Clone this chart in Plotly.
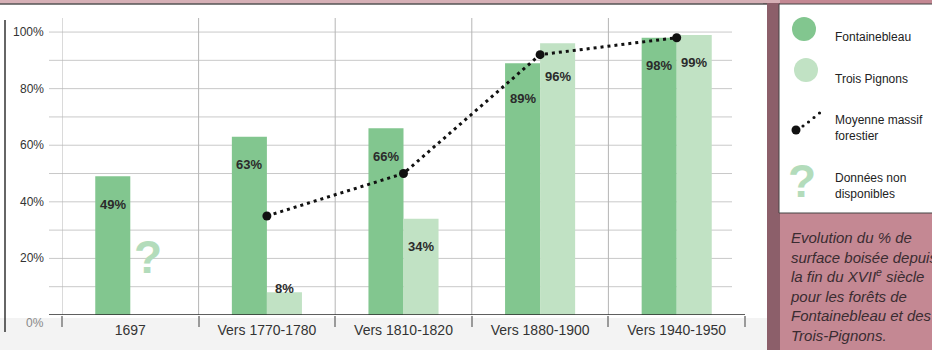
import plotly.graph_objects as go

# ---- data ----
categories = ["1697", "Vers 1770-1780", "Vers 1810-1820", "Vers 1880-1900", "Vers 1940-1950"]
fontainebleau = [49, 63, 66, 89, 98]
trois_pignons = [None, 8, 34, 96, 99]
moyenne = [None, 35, 50, 92, 98]
y_tickvals = [0, 20, 40, 60, 80, 100]
y_ticktext = ["0%", "20%", "40%", "60%", "80%", "100%"]
caption_lines = ["Evolution du % de", "surface boisée depuis", "la fin du XVII<sup>e</sup> siècle",
                 "pour les forêts de", "Fontainebleau et des", "Trois-Pignons."]

W, H = 932, 350
GREEN = "#82c68f"
LIGHT = "#c1e2c4"
QMARK = "#b3dcbb"
PINK = "#c48893"
FONT = "Liberation Sans, Arial, sans-serif"


def px(x):
    return x / W


def py(y):
    return 1 - y / H


fig = go.Figure()
fig.add_trace(go.Bar(x=categories, y=fontainebleau, marker=dict(color=GREEN, line=dict(width=0)),
                     name="Fontainebleau", showlegend=False, hoverinfo="skip"))
fig.add_trace(go.Bar(x=categories, y=trois_pignons, marker=dict(color=LIGHT, line=dict(width=0)),
                     name="Trois Pignons", showlegend=False, hoverinfo="skip"))
fig.add_trace(go.Scatter(x=categories, y=moyenne, mode="lines+markers",
                         line=dict(color="#111111", width=3, dash="3px,4px"),
                         marker=dict(size=9, color="#111111"),
                         name="Moyenne massif forestier", showlegend=False, hoverinfo="skip",
                         connectgaps=False))

shapes = []
# backgrounds
shapes.append(dict(type="rect", xref="paper", yref="paper", x0=px(0), x1=px(W), y0=py(H), y1=py(0),
                   fillcolor=PINK, line=dict(width=0), layer="below"))
shapes.append(dict(type="rect", xref="paper", yref="paper", x0=px(0), x1=px(780), y0=py(H), y1=py(0),
                   fillcolor="#d6b0b6", line=dict(width=0), layer="below"))
shapes.append(dict(type="rect", xref="paper", yref="paper", x0=px(763), x1=px(780), y0=py(H), y1=py(3),
                   fillcolor="#8c5f6a", line=dict(width=0), layer="below"))
shapes.append(dict(type="rect", xref="paper", yref="paper", x0=px(0), x1=px(767), y0=py(H), y1=py(4),
                   fillcolor="#ffffff", line=dict(width=0), layer="below"))
shapes.append(dict(type="rect", xref="paper", yref="paper", x0=px(0), x1=px(767), y0=py(H), y1=py(318),
                   fillcolor="#f3f3f3", line=dict(width=0), layer="below"))
# panel borders
shapes.append(dict(type="line", xref="paper", yref="paper", x0=px(0), x1=px(767), y0=py(4), y1=py(4),
                   line=dict(color="#555555", width=1.5)))
shapes.append(dict(type="line", xref="paper", yref="paper", x0=px(5), x1=px(5), y0=py(20), y1=py(332),
                   line=dict(color="#333333", width=1.5)))

# horizontal gridlines
for v in range(10, 101, 10):
    shapes.append(dict(type="line", xref="x domain", yref="y", x0=-13 / 683, x1=670 / 683, y0=v, y1=v,
                       line=dict(color="#c9c9c9", width=1), layer="below"))
# vertical gridlines at category boundaries
for i in range(len(categories)):
    shapes.append(dict(type="line", xref="x", yref="y", x0=i - 0.5, x1=i - 0.5, y0=0, y1=105,
                       line=dict(color="#b5b5b5", width=1), layer="below"))
# x axis baseline
shapes.append(dict(type="line", xref="x domain", yref="y", x0=-13 / 683, x1=1, y0=0, y1=0,
                   line=dict(color="#2a2a2a", width=1.5)))

# legend box
shapes.append(dict(type="rect", xref="paper", yref="paper", x0=px(779), x1=px(935), y0=py(213), y1=py(4),
                   fillcolor="#ffffff", line=dict(color="#444444", width=1)))
shapes.append(dict(type="circle", xref="paper", yref="paper", x0=px(792), x1=px(816), y0=py(41), y1=py(17),
                   fillcolor=GREEN, line=dict(width=0)))
shapes.append(dict(type="circle", xref="paper", yref="paper", x0=px(794), x1=px(818), y0=py(82), y1=py(58),
                   fillcolor=LIGHT, line=dict(width=0)))
shapes.append(dict(type="circle", xref="paper", yref="paper", x0=px(791.5), x1=px(800.5), y0=py(134.5), y1=py(125.5),
                   fillcolor="#111111", line=dict(width=0)))
for cx, cy in [(803, 126), (808.5, 122), (814, 117.5), (819.5, 113)]:
    shapes.append(dict(type="circle", xref="paper", yref="paper", x0=px(cx - 1.6), x1=px(cx + 1.6),
                       y0=py(cy + 1.6), y1=py(cy - 1.6), fillcolor="#111111", line=dict(width=0)))

annotations = []
lab_font = dict(family=FONT, size=13, color="#2b2b2b")
shift_override = {("f", 3): -35, ("t", 3): -33}
for i, v in enumerate(fontainebleau):
    if v is None:
        continue
    annotations.append(dict(x=i, y=v, xref="x", yref="y", text=f"<b>{v}%</b>", showarrow=False,
                            xshift=-17.5, yshift=shift_override.get(("f", i), -28), font=lab_font))
for i, v in enumerate(trois_pignons):
    if v is None:
        annotations.append(dict(x=i, y=0, xref="x", yref="y", text="<b>?</b>", showarrow=False,
                                xshift=17.5, yanchor="bottom", yshift=30,
                                font=dict(family=FONT, size=46, color=QMARK)))
        continue
    dy = shift_override.get(("t", i), -28 if v > 15 else 4)
    annotations.append(dict(x=i, y=v, xref="x", yref="y", text=f"<b>{v}%</b>", showarrow=False,
                            xshift=17.5, yshift=dy, font=lab_font))

# y tick labels
for v, t in zip(y_tickvals, y_ticktext):
    annotations.append(dict(x=px(46), y=v, xref="paper", yref="y", text=t, showarrow=False, xanchor="right",
                            yshift=-8 if v == 0 else 0,
                            font=dict(family=FONT, size=12,
                                      color="#888888" if v == 0 else "#333333")))

# legend texts
leg_font = dict(family=FONT, size=12, color="#222222")
for text, yc in [("Fontainebleau", 37), ("Trois Pignons", 79)]:
    annotations.append(dict(x=px(833), y=py(yc), xref="paper", yref="paper", text=text, showarrow=False,
                            xanchor="left", yanchor="middle", font=leg_font))
annotations.append(dict(x=px(833), y=py(127.5), xref="paper", yref="paper", text="Moyenne massif<br>forestier",
                        showarrow=False, xanchor="left", yanchor="middle", align="left", font=leg_font))
annotations.append(dict(x=px(833), y=py(186), xref="paper", yref="paper", text="Données non<br>disponibles",
                        showarrow=False, xanchor="left", yanchor="middle", align="left", font=leg_font))
annotations.append(dict(x=px(802), y=py(181), xref="paper", yref="paper", text="<b>?</b>", showarrow=False,
                        xanchor="center", yanchor="middle",
                        font=dict(family=FONT, size=46, color=QMARK)))

# caption
annotations.append(dict(x=px(788), y=py(227), xref="paper", yref="paper", text="<br>".join(caption_lines),
                        showarrow=False, xanchor="left", yanchor="top", align="left",
                        font=dict(family=FONT, size=15, color="#3a2c31", style="italic")))

fig.update_layout(
    width=W, height=H, autosize=False,
    margin=dict(l=0, r=0, t=0, b=0),
    paper_bgcolor=PINK, plot_bgcolor="rgba(0,0,0,0)",
    barmode="group", bargap=0.487, bargroupgap=0,
    showlegend=False,
    shapes=shapes, annotations=annotations,
    xaxis=dict(type="category", domain=[62 / W, 745 / W], range=[-0.5, 4.5],
               showgrid=False, zeroline=False, showline=False,
               tickson="boundaries", ticks="outside", ticklen=11, tickwidth=2, tickcolor="#9a9a9a",
               ticklabelstandoff=5,
               tickfont=dict(family=FONT, size=14, color="#333333")),
    yaxis=dict(range=[0, 105], domain=[(H - 315) / H, (H - 17.9) / H],
               showgrid=False, zeroline=False, showline=False, showticklabels=False, ticks=""),
)

fig.write_html("out.html")
